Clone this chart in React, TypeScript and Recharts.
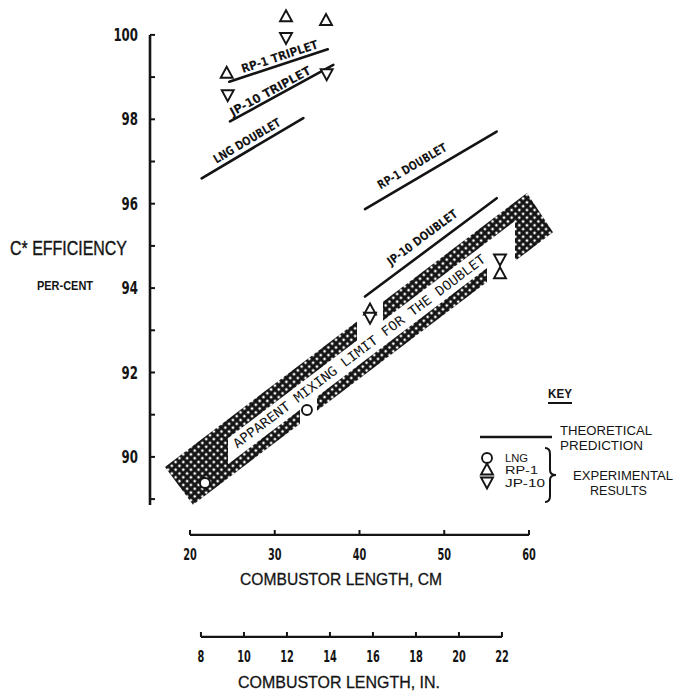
import React from 'react';
import {
  ComposedChart,
  XAxis,
  YAxis,
  Area,
  Scatter,
  ReferenceLine,
  Legend,
} from 'recharts';

// ---- axes ----
const CM_TICKS = [20, 30, 40, 50, 60];
const IN_TICKS = [8, 10, 12, 14, 16, 18, 20, 22];
const Y_TICKS = [89, 90, 91, 92, 93, 94, 95, 96, 97, 98, 99, 100];

const CM_DOMAIN: [number, number] = [15.28, 63.66];
const IN_DOMAIN: [number, number] = [5.63, 24.7];
const Y_DOMAIN: [number, number] = [88.86, 100.59];

// axis rules (the scale lines themselves)
const yRule = [{ x: 15.28, y: 88.86 }, { x: 15.28, y: 100 }];
const cmRule = [{ x: 20, y: 88.152 }, { x: 60, y: 88.152 }];
const inRule = [{ x: 8, y: 85.735 }, { x: 22, y: 85.735 }];

// ---- theoretical prediction lines ----
const rp1Triplet = [{ x: 24.64, y: 98.89 }, { x: 36.25, y: 99.66 }];
const jp10Triplet = [{ x: 24.72, y: 97.95 }, { x: 36.91, y: 99.29 }];
const lngDoublet = [{ x: 21.38, y: 96.6 }, { x: 33.37, y: 98.03 }];
const rp1Doublet = [{ x: 40.65, y: 95.87 }, { x: 56.19, y: 97.71 }];
const jp10Doublet = [{ x: 40.65, y: 93.8 }, { x: 56.19, y: 96.13 }];

// ---- experimental results ----
const lngResults = [{ x: 21.77, y: 89.38 }, { x: 33.8, y: 91.11 }];
const rp1Results = [
  { x: 24.33, y: 99.09 },
  { x: 31.33, y: 100.43 },
  { x: 36.05, y: 100.34 },
  { x: 41.24, y: 93.48 },
  { x: 56.58, y: 94.34 },
];
const jp10Results = [
  { x: 24.45, y: 98.58 },
  { x: 31.33, y: 99.94 },
  { x: 36.13, y: 99.08 },
  { x: 41.24, y: 93.31 },
  { x: 56.58, y: 94.69 },
];

// ---- apparent mixing limit band (hatched pieces, [low, high]) ----
const bandLeftEnd = [
  { x: 17.05, range: [89.763, 89.763] },
  { x: 20.354, range: [88.867, 90.265] },
  { x: 24.484, range: [89.495, 90.893] },
];
const bandUpperLeft = [
  { x: 24.484, range: [90.443, 90.893] },
  { x: 39.705, range: [92.758, 93.209] },
];
const bandUpperRight = [
  { x: 42.773, range: [93.224, 93.674] },
  { x: 58.348, range: [95.592, 96.041] },
];
const bandRightEnd = [
  { x: 58.348, range: [94.643, 96.041] },
  { x: 59.764, range: [94.858, 96.256] },
  { x: 62.832, range: [95.325, 95.325] },
];
const bandLowerLeft = [
  { x: 24.484, range: [89.495, 89.827] },
  { x: 32.979, range: [90.787, 91.118] },
];
const bandLowerRight = [
  { x: 34.985, range: [91.092, 91.424] },
  { x: 55.044, range: [94.142, 94.474] },
];
const bandText = [{ x: 24.9, y: 90.225 }, { x: 55.04, y: 94.781 }];

const BAND_PIECES = [
  bandLeftEnd,
  bandUpperLeft,
  bandUpperRight,
  bandRightEnd,
  bandLowerLeft,
  bandLowerRight,
];

const THEORY = [
  { key: 'rp1t', caption: 'RP-1 TRIPLET', data: rp1Triplet },
  { key: 'jp10t', caption: 'JP-10 TRIPLET', data: jp10Triplet },
  { key: 'lngd', caption: 'LNG DOUBLET', data: lngDoublet },
  { key: 'rp1d', caption: 'RP-1 DOUBLET', data: rp1Doublet },
  { key: 'jp10d', caption: 'JP-10 DOUBLET', data: jp10Doublet },
];

// label placement along each line (px): shift along, shift above, text length
const LABEL_PLACE: Record<string, { along: number; perp: number; len: number }> = {
  rp1t: { along: 4, perp: 8, len: 80 },
  jp10t: { along: -9, perp: 7, len: 90 },
  lngd: { along: -1, perp: 9, len: 76 },
  rp1d: { along: -14, perp: 13, len: 78 },
  jp10d: { along: -1, perp: 13, len: 84 },
};

const INK = '#141414';
const NUM_FONT = "'Liberation Sans Narrow', 'DejaVu Sans Condensed', 'Liberation Sans', Arial, sans-serif";
const TEXT_FONT = "'Liberation Sans', Arial, sans-serif";
const MONO_FONT = "'DejaVu Sans Mono', 'Liberation Mono', monospace";

function SlopeLabel(props: any) {
  const { viewBox, caption, along = 0, perp = 0, len, size = 12, family = NUM_FONT, weight = 'bold' } = props;
  if (!viewBox) return null;
  const { x, y, width, height } = viewBox;
  const t = Math.atan2(height, width);
  const cx = x + width / 2 + along * Math.cos(t) - perp * Math.sin(t);
  const cy = y + height / 2 - along * Math.sin(t) - perp * Math.cos(t);
  const deg = (-t * 180) / Math.PI;
  return (
    <text
      x={cx}
      y={cy}
      transform={`rotate(${deg} ${cx} ${cy})`}
      textAnchor="middle"
      dominantBaseline="central"
      fontSize={size}
      fontWeight={weight}
      fontFamily={family}
      fill={INK}
      textLength={len}
      lengthAdjust="spacingAndGlyphs"
    >
      {caption}
    </text>
  );
}

function YTick(props: any) {
  const { x, y, payload } = props;
  const v = payload.value;
  const label = String(v);
  return (
    <g>
      <line x1={x} x2={x + 5} y1={y} y2={y} stroke={INK} strokeWidth={2} />
      {v % 2 === 0 && (
        <text
          x={x - 12}
          y={y}
          dy="0.36em"
          textAnchor="end"
          fontSize={17}
          fontWeight="bold"
          fontFamily={NUM_FONT}
          fill={INK}
          textLength={label.length * 8.2}
          lengthAdjust="spacingAndGlyphs"
        >
          {label}
        </text>
      )}
    </g>
  );
}

function XTick(props: any) {
  const { x, y, payload } = props;
  const label = String(payload.value);
  return (
    <g>
      <line x1={x} x2={x} y1={y + 30} y2={y + 25} stroke={INK} strokeWidth={2} />
      <text
        x={x}
        y={y + 55}
        textAnchor="middle"
        fontSize={16}
        fontWeight="bold"
        fontFamily={NUM_FONT}
        fill={INK}
        textLength={label.length * 6.8}
        lengthAdjust="spacingAndGlyphs"
      >
        {label}
      </text>
    </g>
  );
}

function AxisTitle(props: any) {
  const { viewBox, caption, shiftX = 0, baseY = 80 } = props;
  if (!viewBox) return null;
  const cx = viewBox.x + viewBox.width / 2 + shiftX;
  return (
    <text
      x={cx}
      y={viewBox.y + baseY}
      textAnchor="middle"
      fontSize={17}
      fontFamily={TEXT_FONT}
      fill={INK}
      stroke={INK}
      strokeWidth={0.3}
      textLength={202}
      lengthAdjust="spacingAndGlyphs"
    >
      {caption}
    </text>
  );
}

function YTitle(props: any) {
  const { viewBox } = props;
  if (!viewBox) return null;
  return (
    <g fill={INK}>
      <text
        x={viewBox.x + 10}
        y={viewBox.y + 245}
        fontSize={20}
        fontFamily={TEXT_FONT}
        stroke={INK}
        strokeWidth={0.4}
        textLength={117}
        lengthAdjust="spacingAndGlyphs"
      >
        C* EFFICIENCY
      </text>
      <text
        x={viewBox.x + 37}
        y={viewBox.y + 280}
        fontSize={12}
        fontWeight="bold"
        fontFamily={TEXT_FONT}
        textLength={56}
        lengthAdjust="spacingAndGlyphs"
      >
        PER-CENT
      </text>
    </g>
  );
}

const triUp = (cx: number, cy: number) =>
  `${cx},${cy - 6.5} ${cx - 6},${cy + 4.5} ${cx + 6},${cy + 4.5}`;
const triDown = (cx: number, cy: number) =>
  `${cx - 6},${cy - 4.5} ${cx + 6},${cy - 4.5} ${cx},${cy + 6.5}`;

const renderCircle = (p: any) => (
  <circle cx={p.cx} cy={p.cy} r={5} fill="#fff" stroke={INK} strokeWidth={1.9} />
);
const renderUp = (p: any) => (
  <polygon points={triUp(p.cx, p.cy)} fill="#fff" stroke={INK} strokeWidth={1.9} />
);
const renderDown = (p: any) => (
  <polygon points={triDown(p.cx, p.cy)} fill="#fff" stroke={INK} strokeWidth={1.9} />
);

function KeyBox() {
  const t = { fontFamily: TEXT_FONT, fontSize: 12, fill: INK, lengthAdjust: 'spacingAndGlyphs' } as any;
  const row = { ...t, fontSize: 10.5 };
  return (
    <svg width={214} height={140} style={{ overflow: 'visible', display: 'block' }}>
      <text x={88} y={28} {...t} fontWeight="bold" textLength={24}>KEY</text>
      <line x1={88} x2={112} y1={33} y2={33} stroke={INK} strokeWidth={2} />
      <line x1={20} x2={92} y1={67} y2={67} stroke={INK} strokeWidth={2.6} />
      <text x={100} y={65} {...t} textLength={92}>THEORETICAL</text>
      <text x={100} y={80} {...t} textLength={83}>PREDICTION</text>
      <circle cx={27} cy={88} r={5} fill="#fff" stroke={INK} strokeWidth={1.9} />
      <text x={45} y={92} {...row} textLength={23}>LNG</text>
      <polygon points={triUp(27, 100)} fill="#fff" stroke={INK} strokeWidth={1.9} />
      <text x={45} y={104} {...row} textLength={33}>RP-1</text>
      <polygon points={triDown(27, 112)} fill="#fff" stroke={INK} strokeWidth={1.9} />
      <text x={45} y={117} {...row} textLength={40}>JP-10</text>
      <path
        d="M85 78 Q90 78 90 84 L90 100 Q90 105 96 105 Q90 105 90 110 L90 126 Q90 132 85 132"
        fill="none"
        stroke={INK}
        strokeWidth={2}
      />
      <text x={113} y={110} {...t} textLength={100}>EXPERIMENTAL</text>
      <text x={130} y={125} {...t} textLength={57}>RESULTS</text>
    </svg>
  );
}

export default function App() {
  return (
    <div style={{ position: 'absolute', left: 0, top: 0, width: 674, height: 696, background: '#fff' }}>
      <ComposedChart width={674} height={696} margin={{ top: 10, right: 114, bottom: 0, left: 0 }}>
        <defs>
          <pattern id="xhatch" width="5.4" height="5.4" patternUnits="userSpaceOnUse" patternTransform="rotate(45)">
            <rect width="5.4" height="5.4" fill={INK} />
            <rect x="1.5" y="1.5" width="2.4" height="2.4" fill="#fff" />
          </pattern>
        </defs>
        <XAxis
          xAxisId="cm"
          type="number"
          dataKey="x"
          domain={CM_DOMAIN}
          ticks={CM_TICKS}
          interval={0}
          axisLine={false}
          tickLine={false}
          tickSize={0}
          tickMargin={0}
          tick={<XTick />}
          height={102}
          label={<AxisTitle caption="COMBUSTOR LENGTH, CM" shiftX={-14} baseY={80} />}
        />
        <XAxis
          xAxisId="in"
          type="number"
          dataKey="x"
          domain={IN_DOMAIN}
          allowDataOverflow
          ticks={IN_TICKS}
          interval={0}
          axisLine={false}
          tickLine={false}
          tickSize={0}
          tickMargin={0}
          tick={<XTick />}
          height={89}
          label={<AxisTitle caption="COMBUSTOR LENGTH, IN." shiftX={-16} baseY={81} />}
        />
        <YAxis
          type="number"
          domain={Y_DOMAIN}
          ticks={Y_TICKS}
          interval={0}
          width={150}
          axisLine={false}
          tickLine={false}
          tickSize={0}
          tickMargin={0}
          tick={<YTick />}
          label={<YTitle />}
        />

        {BAND_PIECES.map((piece, i) => (
          <Area
            key={`band-${i}`}
            xAxisId="cm"
            data={piece}
            dataKey="range"
            type="linear"
            stroke="none"
            fill="url(#xhatch)"
            fillOpacity={1}
            dot={false}
            activeDot={false}
            legendType="none"
            isAnimationActive={false}
          />
        ))}

        <ReferenceLine
          xAxisId="cm"
          segment={bandText}
          ifOverflow="visible"
          stroke="none"
          label={
            <SlopeLabel
              caption="APPARENT MIXING LIMIT FOR THE DOUBLET"
              len={312}
              size={13}
              weight="normal"
              family={MONO_FONT}
            />
          }
        />

        {THEORY.map((line) => (
          <ReferenceLine
            key={line.key}
            xAxisId="cm"
            segment={line.data}
            ifOverflow="visible"
            stroke={INK}
            strokeWidth={2.6}
            strokeLinecap="round"
            label={<SlopeLabel caption={line.caption} {...LABEL_PLACE[line.key]} />}
          />
        ))}

        <ReferenceLine xAxisId="cm" segment={yRule} ifOverflow="visible" stroke={INK} strokeWidth={2.6} />
        <ReferenceLine xAxisId="cm" segment={cmRule} ifOverflow="visible" stroke={INK} strokeWidth={2.4} />
        <ReferenceLine xAxisId="in" segment={inRule} ifOverflow="visible" stroke={INK} strokeWidth={2.4} />

        <Scatter xAxisId="cm" data={lngResults} dataKey="y" shape={renderCircle} legendType="none" isAnimationActive={false} />
        <Scatter xAxisId="cm" data={rp1Results} dataKey="y" shape={renderUp} legendType="none" isAnimationActive={false} />
        <Scatter xAxisId="cm" data={jp10Results} dataKey="y" shape={renderDown} legendType="none" isAnimationActive={false} />

        <Legend
          layout="horizontal"
          verticalAlign="middle"
          align="center"
          content={<KeyBox />}
          wrapperStyle={{ left: 460, top: 370, width: 214, height: 140 }}
        />
      </ComposedChart>
    </div>
  );
}
